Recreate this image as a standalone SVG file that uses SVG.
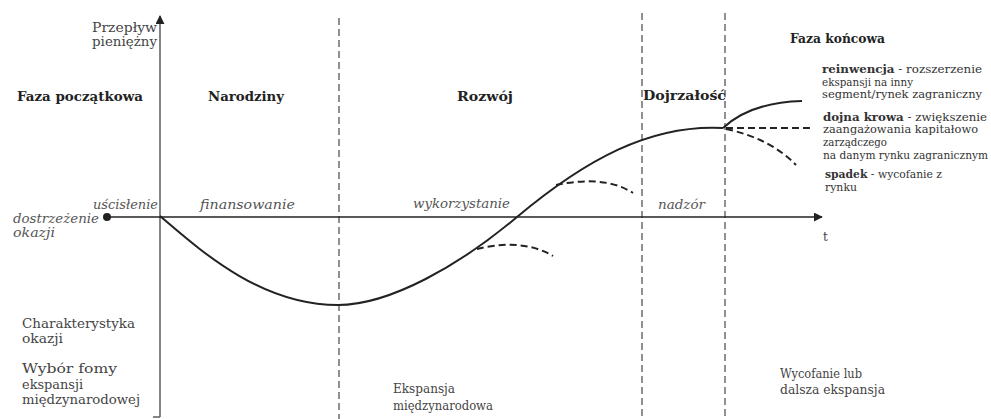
<svg xmlns="http://www.w3.org/2000/svg" width="991" height="419" viewBox="0 0 991 419">
<defs>
<marker id="arr" viewBox="0 0 10 10" refX="9" refY="5" markerWidth="9" markerHeight="9" markerUnits="userSpaceOnUse" orient="auto">
<path d="M0,0 L10,5 L0,10 z" fill="#222"/>
</marker>
<style>
text{font-family:"DejaVu Serif","Liberation Serif",serif}
.bold{font-weight:bold;font-size:13px;fill:#222}
.norm{font-size:12px;fill:#444}
.small{font-size:10.5px;fill:#333}
.it{font-style:italic;font-size:12px;fill:#555}
.dash{stroke:#555;stroke-width:1.3;stroke-dasharray:7,4;fill:none}
.curve{stroke:#222;stroke-width:2;fill:none}
.branch{stroke:#222;stroke-width:2;fill:none;stroke-dasharray:7,4}
</style>
</defs>
<rect width="991" height="419" fill="#fff"/>
<g id="phase-lines">
<line class="dash" x1="339" y1="18" x2="339" y2="419"/>
<line class="dash" x1="642" y1="13" x2="642" y2="419"/>
<line class="dash" x1="725" y1="13" x2="725" y2="419"/>
</g>
<g id="axes">
<line x1="160" y1="417" x2="160" y2="16" stroke="#666" stroke-width="1.6" marker-end="url(#arr)"/>
<line x1="153" y1="417" x2="160" y2="417" stroke="#666" stroke-width="1.6"/>
<line x1="107" y1="217" x2="822" y2="217" stroke="#222" stroke-width="1.3" marker-end="url(#arr)"/>
<circle cx="107" cy="217" r="4" fill="#222"/>
</g>
<g id="connectors">
<path class="curve" d="M160,216 C200,250 260,305 338,305 C390,305 460,265 517,217 C585,160 650,124 723,128"/>
<path class="curve" d="M723,128 C740,112 765,102 802,101"/>
<path class="branch" d="M726,128 L811,128"/>
<path class="branch" d="M726,129 C755,135 780,148 796,165"/>
<path class="branch" d="M556,185 C580,180 610,178 633,193"/>
<path class="branch" d="M477,249 C500,243 530,242 553,256"/>
</g>
<g id="axis-labels">
<text class="norm" x="92" y="32" textLength="65" lengthAdjust="spacingAndGlyphs">Przepływ</text>
<text class="norm" x="92" y="46" textLength="65" lengthAdjust="spacingAndGlyphs">pieniężny</text>
<text class="norm" x="823" y="241">t</text>
</g>
<g id="phase-faza-poczatkowa">
<text class="bold" x="17" y="101" textLength="126" lengthAdjust="spacingAndGlyphs">Faza początkowa</text>
<text class="it" x="93" y="209" textLength="65" lengthAdjust="spacingAndGlyphs">uścisłenie</text>
<text class="it" x="13" y="223" textLength="86" lengthAdjust="spacingAndGlyphs">dostrzeżenie</text>
<text class="it" x="13" y="237" textLength="42" lengthAdjust="spacingAndGlyphs">okazji</text>
<text class="norm" x="22" y="328" textLength="113" lengthAdjust="spacingAndGlyphs">Charakterystyka</text>
<text class="norm" x="22" y="343" textLength="41" lengthAdjust="spacingAndGlyphs">okazji</text>
<text class="norm" x="22" y="373" textLength="95" lengthAdjust="spacingAndGlyphs">Wybór fomy</text>
<text class="norm" x="22" y="389" textLength="61" lengthAdjust="spacingAndGlyphs">ekspansji</text>
<text class="norm" x="22" y="404" textLength="118" lengthAdjust="spacingAndGlyphs">międzynarodowej</text>
</g>
<g id="phase-narodziny">
<text class="bold" x="208" y="101" textLength="76" lengthAdjust="spacingAndGlyphs">Narodziny</text>
<text class="it" x="200" y="209" textLength="95" lengthAdjust="spacingAndGlyphs">finansowanie</text>
</g>
<g id="phase-rozwoj">
<text class="bold" x="457" y="101" textLength="56" lengthAdjust="spacingAndGlyphs">Rozwój</text>
<text class="it" x="413" y="208" textLength="97" lengthAdjust="spacingAndGlyphs">wykorzystanie</text>
<text class="norm" x="393" y="393" textLength="62" lengthAdjust="spacingAndGlyphs">Ekspansja</text>
<text class="norm" x="393" y="410" textLength="100" lengthAdjust="spacingAndGlyphs">międzynarodowa</text>
</g>
<g id="phase-dojrzalosc">
<text class="bold" x="643" y="100" textLength="83" lengthAdjust="spacingAndGlyphs">Dojrzałość</text>
<text class="it" x="658" y="209" textLength="47" lengthAdjust="spacingAndGlyphs">nadzór</text>
</g>
<g id="phase-faza-koncowa">
<text class="bold" x="790" y="43" font-size="14" textLength="95" lengthAdjust="spacingAndGlyphs">Faza końcowa</text>
<text class="small" x="822" y="73" textLength="160" lengthAdjust="spacingAndGlyphs"><tspan font-weight="bold">reinwencja</tspan> - rozszerzenie</text>
<text class="small" x="822" y="86" textLength="91" lengthAdjust="spacingAndGlyphs">ekspansji na inny</text>
<text class="small" x="822" y="98" textLength="160" lengthAdjust="spacingAndGlyphs">segment/rynek zagraniczny</text>
<text class="small" x="823" y="121" textLength="164" lengthAdjust="spacingAndGlyphs"><tspan font-weight="bold">dojna krowa</tspan> - zwiększenie</text>
<text class="small" x="823" y="133" textLength="155" lengthAdjust="spacingAndGlyphs">zaangażowania kapitałowo</text>
<text class="small" x="823" y="146" textLength="64" lengthAdjust="spacingAndGlyphs">zarządczego</text>
<text class="small" x="823" y="159" textLength="165" lengthAdjust="spacingAndGlyphs">na danym rynku zagranicznym</text>
<text class="small" x="825" y="178" textLength="117" lengthAdjust="spacingAndGlyphs"><tspan font-weight="bold">spadek</tspan> - wycofanie z</text>
<text class="small" x="825" y="191" textLength="32" lengthAdjust="spacingAndGlyphs">rynku</text>
<text class="norm" x="780" y="378" textLength="82" lengthAdjust="spacingAndGlyphs">Wycofanie lub</text>
<text class="norm" x="780" y="394" textLength="105" lengthAdjust="spacingAndGlyphs">dalsza ekspansja</text>
</g>
</svg>
